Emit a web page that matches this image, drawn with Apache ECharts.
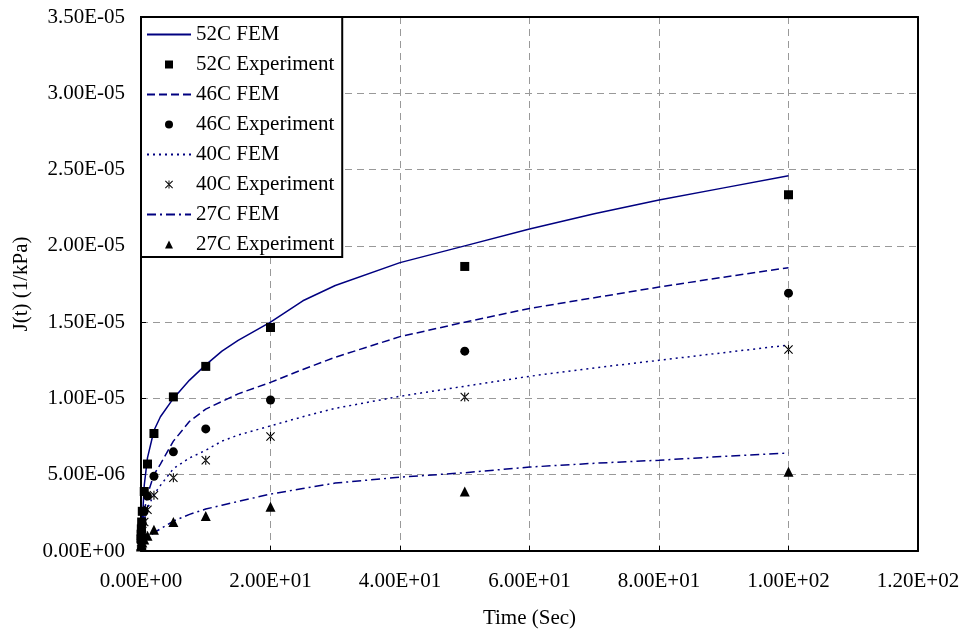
<!DOCTYPE html>
<html>
<head>
<meta charset="utf-8">
<script src="https://cdn.jsdelivr.net/npm/echarts@6/dist/echarts.min.js"></script>
<style>
html,body{margin:0;padding:0;background:#fff;}
#chart{width:964px;height:634px;}
</style>
</head>
<body>
<div id="chart"></div>
<script>
// ---- Data ----
var xTickLabels = ['0.00E+00','2.00E+01','4.00E+01','6.00E+01','8.00E+01','1.00E+02','1.20E+02'];
var yTickLabels = ['0.00E+00','5.00E-06','1.00E-05','1.50E-05','2.00E-05','2.50E-05','3.00E-05','3.50E-05'];

var expTime = [0.01, 0.02, 0.05, 0.1, 0.2, 0.5, 1, 2, 5, 10, 20, 50, 100];
var exp52 = [0.8e-6, 1.1e-6, 1.45e-6, 1.9e-6, 2.6e-6, 3.9e-6, 5.7e-6, 7.7e-6, 10.1e-6, 12.1e-6, 14.65e-6, 18.65e-6, 23.35e-6];
var exp46 = [0.6e-6, 0.75e-6, 1.0e-6, 1.3e-6, 1.8e-6, 2.6e-6, 3.6e-6, 4.9e-6, 6.5e-6, 8.0e-6, 9.9e-6, 13.1e-6, 16.9e-6];
var exp40 = [0.5e-6, 0.6e-6, 0.8e-6, 1.0e-6, 1.3e-6, 1.9e-6, 2.7e-6, 3.65e-6, 4.8e-6, 5.95e-6, 7.5e-6, 10.1e-6, 13.2e-6];
var exp27 = [0.3e-6, 0.35e-6, 0.4e-6, 0.45e-6, 0.55e-6, 0.75e-6, 1.0e-6, 1.4e-6, 1.9e-6, 2.3e-6, 2.9e-6, 3.9e-6, 5.2e-6];

var femTime = [0, 0.5, 1, 2, 3, 5, 7.5, 10, 12.5, 15, 20, 25, 30, 40, 50, 60, 70, 80, 90, 100];
var fem52 = [0.3e-6, 4.3e-6, 6.1e-6, 7.9e-6, 8.8e-6, 10.0e-6, 11.2e-6, 12.2e-6, 13.1e-6, 13.8e-6, 15.0e-6, 16.4e-6, 17.4e-6, 18.9e-6, 20.0e-6, 21.1e-6, 22.1e-6, 23.0e-6, 23.8e-6, 24.6e-6];
var fem46 = [0.2e-6, 2.6e-6, 3.7e-6, 5.0e-6, 5.7e-6, 7.2e-6, 8.5e-6, 9.3e-6, 9.8e-6, 10.3e-6, 11.05e-6, 11.9e-6, 12.7e-6, 14.05e-6, 15.0e-6, 15.9e-6, 16.6e-6, 17.3e-6, 17.95e-6, 18.57e-6];
var fem40 = [0.2e-6, 2.0e-6, 2.8e-6, 3.7e-6, 4.3e-6, 5.4e-6, 6.1e-6, 6.6e-6, 7.2e-6, 7.6e-6, 8.2e-6, 8.8e-6, 9.35e-6, 10.14e-6, 10.8e-6, 11.45e-6, 12.0e-6, 12.5e-6, 13.0e-6, 13.5e-6];
var fem27 = [0.1e-6, 0.6e-6, 0.85e-6, 1.2e-6, 1.45e-6, 1.96e-6, 2.4e-6, 2.75e-6, 3.0e-6, 3.25e-6, 3.73e-6, 4.1e-6, 4.45e-6, 4.84e-6, 5.13e-6, 5.5e-6, 5.75e-6, 5.95e-6, 6.2e-6, 6.42e-6];

var seriesNames = ['52C FEM','52C Experiment','46C FEM','46C Experiment','40C FEM','40C Experiment','27C FEM','27C Experiment'];

// ---- Build ----
function pairs(ts, vs){ return ts.map(function(t,i){ return [t, vs[i]]; }); }
var FONT = 'Liberation Serif, Times New Roman, serif';
var NAVY = '#000080';
var starPath = 'path://M4.4,0H5.6V10H4.4Z M0,0.85L0.85,0L10,9.15L9.15,10Z M10,0.85L9.15,0L0,9.15L0.85,10Z';

function femSeries(name, data, dash){
  return {
    name: name, type: 'line', data: data, symbol: 'none', showSymbol: false,
    lineStyle: { color: NAVY, width: 1.5, type: dash },
    itemStyle: { color: NAVY }, z: 2, animation: false
  };
}
function expSeries(name, data, symbol, size){
  return {
    name: name, type: 'line', data: data, symbol: symbol, symbolSize: size, showSymbol: true,
    lineStyle: { opacity: 0, width: 0 },
    itemStyle: { color: '#000' }, z: 3, animation: false
  };
}

var splitStyle = { show: true, lineStyle: { color: '#999', width: 1, type: [7, 5] } };
var frameAxisLine = { show: true, onZero: false, lineStyle: { color: '#000', width: 2 } };

var chart = echarts.init(document.getElementById('chart'), null, { renderer: 'canvas' });
var option = {
  backgroundColor: '#fff',
  animation: false,
  grid: { left: 141, right: 46, top: 17, bottom: 82, show: false },
  legend: {
    orient: 'vertical', left: 141, top: 17,
    backgroundColor: '#fff', borderColor: '#000', borderWidth: 2, borderRadius: 0,
    padding: [7, 8, 2, 5],
    itemGap: 9, itemWidth: 44, itemHeight: 10,
    textStyle: { fontFamily: FONT, fontSize: 21, color: '#000' },
    selectedMode: false,
    data: seriesNames.map(function(n){
      if (n.indexOf('FEM') >= 0) return { name: n, itemStyle: { color: 'rgba(0,0,0,0)', opacity: 0 } };
      return { name: n };
    })
  },
  xAxis: [{
    type: 'value', min: 0, max: 120, interval: 20, position: 'bottom',
    name: 'Time (Sec)', nameLocation: 'middle', nameGap: 57,
    nameTextStyle: { fontFamily: FONT, fontSize: 21, color: '#000' },
    axisLine: frameAxisLine,
    axisTick: { show: true, inside: true, length: 5, lineStyle: { color: '#000', width: 1 } },
    axisLabel: { margin: 20, fontFamily: FONT, fontSize: 21, color: '#000',
      formatter: function(v){ return xTickLabels[Math.round(v/20)]; } },
    splitLine: splitStyle
  }, {
    type: 'value', min: 0, max: 120, interval: 20, position: 'top',
    axisLine: frameAxisLine, axisTick: { show: false }, axisLabel: { show: false }, splitLine: { show: false }
  }],
  yAxis: [{
    type: 'value', min: 0, max: 3.5e-5, interval: 5e-6, position: 'left',
    name: 'J(t) (1/kPa)', nameLocation: 'middle', nameGap: 107, nameRotate: 90,
    nameTextStyle: { fontFamily: FONT, fontSize: 21, color: '#000' },
    axisLine: frameAxisLine,
    axisTick: { show: true, inside: true, length: 5, lineStyle: { color: '#000', width: 1 } },
    axisLabel: { margin: 16, fontFamily: FONT, fontSize: 21, color: '#000',
      formatter: function(v){ return yTickLabels[Math.round(v/5e-6)]; } },
    splitLine: splitStyle
  }, {
    type: 'value', min: 0, max: 3.5e-5, interval: 5e-6, position: 'right',
    axisLine: frameAxisLine, axisTick: { show: false }, axisLabel: { show: false }, splitLine: { show: false }
  }],
  series: [
    femSeries('52C FEM', pairs(femTime, fem52), 'solid'),
    expSeries('52C Experiment', pairs(expTime, exp52), 'rect', 9),
    femSeries('46C FEM', pairs(femTime, fem46), [8, 4]),
    expSeries('46C Experiment', pairs(expTime, exp46), 'circle', 9),
    femSeries('40C FEM', pairs(femTime, fem40), [2, 4]),
    expSeries('40C Experiment', pairs(expTime, exp40), starPath, 9),
    femSeries('27C FEM', pairs(femTime, fem27), [9, 4, 2, 4]),
    expSeries('27C Experiment', pairs(expTime, exp27), 'triangle', 10)
  ]
};
chart.setOption(option);
</script>
</body>
</html>
